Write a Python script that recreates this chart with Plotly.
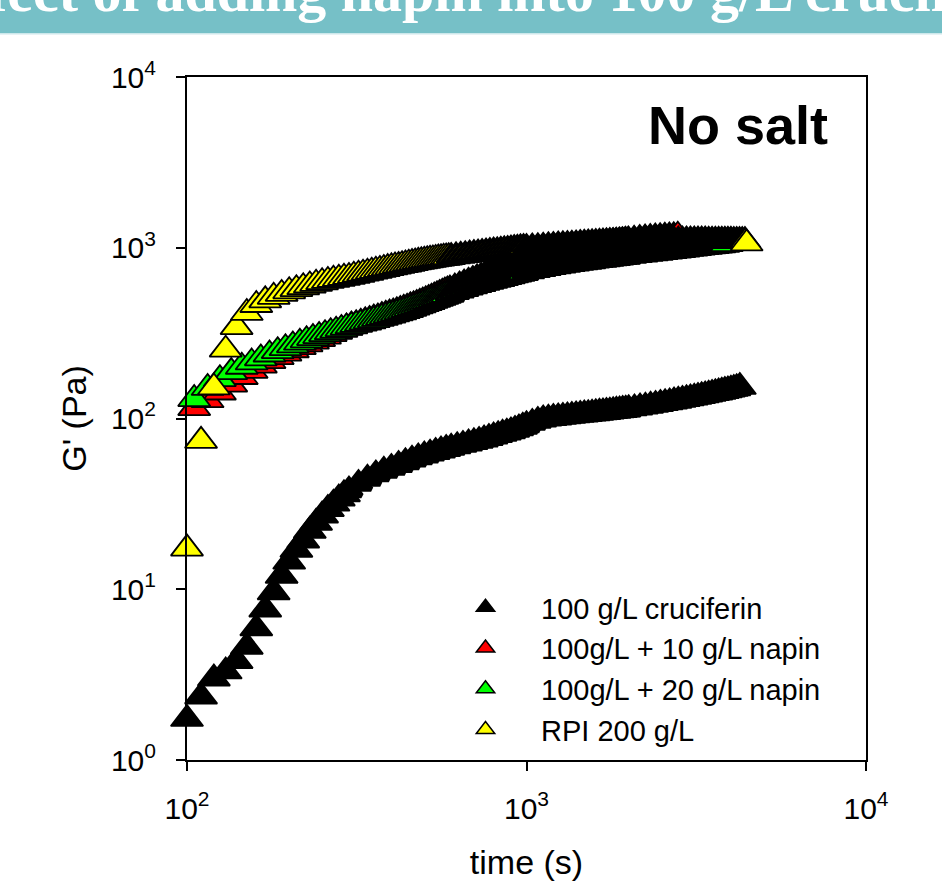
import math
import plotly.graph_objects as go

# ---------------- data ----------------
SERIES_NAMES = ["100 g/L cruciferin", "100g/L + 10 g/L napin", "100g/L + 20 g/L napin", "RPI 200 g/L"]

black_t = [100, 110, 120, 130, 140, 150, 160, 170, 180, 190, 200, 210, 220, 230, 240, 250, 260, 270, 280, 290, 300,
           320, 340, 360, 380, 400, 420, 440, 460, 480, 500, 520, 540, 560, 580, 600,
           625, 650, 675, 700, 725, 750, 775, 800, 825, 850, 875, 900, 925, 950, 975, 1000,
           1040, 1080, 1120, 1160, 1200, 1240, 1280, 1320, 1360, 1400, 1440, 1480, 1520, 1560, 1600, 1640, 1680,
           1720, 1760, 1800, 1840, 1880, 1920, 1960, 2000,
           2080, 2160, 2240, 2320, 2400, 2480, 2560, 2640, 2720, 2800, 2880, 2960, 3040, 3120, 3200, 3280, 3360,
           3440, 3520, 3600, 3680, 3760, 3840, 3920, 4000, 4080, 4160, 4250]
black_g = [1.74, 2.35, 3.0, 3.3, 3.8, 4.6, 5.9, 7.6, 9.6, 12.0, 14.5, 17.0, 19.3, 22.0, 24.5, 27.0, 29.5, 31.7, 34.0, 36.0, 38.0,
           41.5, 44.5, 47.2, 49.5, 51.5, 53.5, 55.5, 57.5, 59.3, 60.8, 62.3, 63.7, 65.0, 66.3, 67.5,
           68.9, 70.2, 71.5, 72.8, 74.0, 75.5, 77.0, 78.5, 80.0, 81.5, 82.8, 84.2, 85.8, 87.6, 89.5, 91.5,
           94.5, 97.0, 98.9, 100.0, 100.8, 101.6, 102.4, 103.1, 103.8, 104.5, 105.1, 105.7, 106.3, 106.9, 107.5, 108.1, 108.7,
           109.3, 109.9, 110.5, 111.1, 111.7, 112.3, 112.9, 113.5,
           114.9, 116.3, 117.7, 119.1, 120.5, 121.9, 123.3, 124.6, 126.0, 127.3, 128.7, 130.1, 131.4, 132.8, 134.1, 135.5, 136.9,
           138.2, 139.6, 140.9, 142.3, 143.7, 145.0, 146.4, 147.8, 149.2, 150.6, 153.0]

red_t = [105, 115, 125, 135, 145, 155, 165, 175, 185, 195, 205, 215, 225, 235, 245, 255, 265, 275, 285, 295,
         305, 315, 325, 335, 345, 355, 365, 375, 385, 395, 405, 415, 425, 435, 445, 455, 465, 475, 485, 495,
         505, 515, 525, 535, 545, 555, 565, 575, 585, 595,
         615, 635, 655, 675, 695, 715, 735, 755, 775, 795, 815, 835, 855, 875, 895, 915, 935, 955, 975, 995,
         1035, 1075, 1115, 1155, 1195, 1235, 1275, 1315, 1355, 1395, 1435, 1475, 1515, 1555, 1595, 1635, 1675,
         1715, 1755, 1795, 1835, 1875, 1915, 1955, 1995,
         2075, 2155, 2235, 2315, 2395, 2475, 2555, 2635, 2715, 2790]
red_g = [115, 128, 142, 158, 175, 190, 204, 217, 229, 240, 251, 262, 272, 282, 292, 302, 312, 322, 331, 340,
         350, 357, 364, 371, 378, 385, 391, 398, 405, 412, 418, 425, 432, 439, 446, 454, 461, 469, 477, 485,
         493, 501, 510, 519, 528, 537, 545, 554, 562, 570,
         586, 602, 618, 634, 649, 664, 678, 692, 706, 719, 732, 745, 757, 769, 781, 792, 803, 813, 823, 833,
         852, 870, 887, 903, 918, 932, 946, 959, 971, 983, 994, 1005, 1015, 1025, 1034, 1043, 1051,
         1059, 1067, 1074, 1081, 1088, 1094, 1100, 1106,
         1117, 1127, 1136, 1144, 1151, 1157, 1163, 1168, 1172, 1176]

green_t = [105, 115, 125, 135, 145, 155, 165, 175, 185, 195, 205, 215, 225, 235, 245, 255, 265, 275, 285, 295,
           305, 315, 325, 335, 345, 355, 365, 375, 385, 395, 405, 415, 425, 435, 445, 455, 465, 475, 485, 495,
           505, 515, 525, 535, 545, 555, 565, 575, 585, 595,
           615, 635, 655, 675, 695, 715, 735, 755, 775, 795, 815, 835, 855, 875, 895, 915, 935, 955, 975, 995,
           1035, 1075, 1115, 1155, 1195, 1235, 1275, 1315, 1355, 1395, 1435, 1475, 1515, 1555, 1595, 1635, 1675,
           1715, 1755, 1795, 1835, 1875, 1915, 1955, 1995,
           2075, 2155, 2235, 2315, 2395, 2475, 2555, 2635, 2715, 2795, 2875, 2955, 3035, 3115, 3195, 3275, 3355,
           3435, 3515, 3595, 3675, 3755, 3835, 3890]
green_g = [130, 151, 170, 187, 201, 213, 225, 237, 248, 258, 268, 278, 287, 296, 304, 312, 320, 327, 334, 341,
           347, 353, 359, 365, 371, 377, 383, 389, 395, 401, 407, 413, 419, 425, 432, 439, 446, 453, 460, 467,
           474, 481, 488, 495, 502, 509, 516, 523, 530, 537,
           550, 562, 574, 585, 595, 605, 614, 623, 632, 641, 649, 657, 665, 673, 681, 689, 696, 703, 710, 717,
           730, 741, 752, 762, 771, 780, 788, 796, 803, 810, 817, 823, 829, 835, 841, 847, 852,
           857, 862, 867, 872, 877, 882, 886, 890,
           900, 908, 916, 923, 930, 937, 944, 951, 958, 965, 972, 979, 986, 992, 998, 1004, 1010,
           1015, 1020, 1025, 1030, 1035, 1040, 1049]

yellow_t = [100, 110, 120, 130, 140, 150, 160, 170, 180, 190, 200, 210, 220, 230, 240, 250, 260, 270, 280, 290,
            300, 310, 320, 330, 340, 350, 360, 370, 380, 390, 400, 410, 420, 430, 440, 450, 460, 470, 480, 490,
            500, 510, 520, 530, 540, 550, 560, 570, 580, 590, 600,
            620, 640, 660, 680, 700, 720, 740, 760, 780, 800, 820, 840, 860, 880, 900, 920, 940, 960, 980, 1000,
            1040, 1080, 1120, 1160, 1200, 1240, 1280, 1320, 1360, 1400, 1440, 1480, 1520, 1560, 1600, 1640, 1680,
            1720, 1760, 1800, 1840, 1880, 1920, 1960, 2000,
            2080, 2160, 2240, 2320, 2400, 2480, 2560, 2640, 2720, 2800, 2880, 2960, 3040, 3120, 3200, 3280, 3360,
            3440, 3520, 3600, 3680, 3760, 3840, 3920, 4000, 4080, 4160, 4240, 4320, 4400, 4450]
yellow_g = [17.3, 74, 152, 253, 343, 415, 462, 492, 516, 537, 556, 572, 587, 601, 615, 628, 639, 649, 658, 667,
            675, 685, 695, 705, 714, 724, 733, 742, 751, 760, 768, 776, 783, 791, 798, 806, 813, 820, 827, 833,
            839, 845, 850, 855, 860, 865, 869, 873, 877, 881, 885,
            892, 899, 906, 913, 920, 927, 933, 939, 945, 951, 957, 963, 968, 973, 978, 984, 989, 993, 997, 1000,
            1006, 1011, 1016, 1022, 1027, 1032, 1036, 1041, 1045, 1049, 1054, 1058, 1062, 1066, 1069, 1072, 1075,
            1078, 1081, 1084, 1087, 1089, 1091, 1093, 1095,
            1097, 1098, 1099, 1100, 1101, 1102, 1102, 1103, 1103, 1104, 1104, 1104, 1104, 1104, 1104, 1104, 1104,
            1103, 1103, 1103, 1102, 1102, 1101, 1101, 1100, 1099, 1098, 1097, 1096, 1095, 1060]

X_TICKS = [100, 1000, 10000]
X_TICK_TEXT = ["10<sup>2</sup>", "10<sup>3</sup>", "10<sup>4</sup>"]
Y_TICKS = [1, 10, 100, 1000, 10000]
Y_TICK_TEXT = ["10<sup>0</sup>", "10<sup>1</sup>", "10<sup>2</sup>", "10<sup>3</sup>", "10<sup>4</sup>"]

for a, b in [(black_t, black_g), (red_t, red_g), (green_t, green_g), (yellow_t, yellow_g)]:
    assert len(a) == len(b), (len(a), len(b))

# ---------------- layout constants ----------------
W, H = 942, 882
ML, MR, MT, MB = 187, 76, 77, 122
PW, PH = W - ML - MR, H - MT - MB
PX_PER_DEC = PW / 2.0
FONT = "Liberation Sans, Arial, sans-serif"


def px_x(px):
    return (px - ML) / PW


def px_y(py):
    return (H - MB - py) / PH


def marker_style(times, base=28.0, w0=1.8):
    """Outline width that reproduces the look of the original 10 s sampling density."""
    sizes, widths = [], []
    n = len(times)
    for i, t in enumerate(times):
        if i < n - 1:
            d = PX_PER_DEC * math.log10(times[i + 1] / t)
            dref = PX_PER_DEC * math.log10((t + 10.0) / t)
            w = w0 + 0.79 * max(0.0, d - dref)
        else:
            w = w0
        widths.append(round(w, 2))
        sizes.append(round(base - 1.76 * (w - w0), 2))
    return sizes, widths


COLORS = ["#000000", "#FF0000", "#00FF00", "#FFFF00"]
DATA = [(black_t, black_g), (red_t, red_g), (green_t, green_g), (yellow_t, yellow_g)]

fig = go.Figure()
for (t, g), col in zip(DATA, COLORS):
    s, w = marker_style(t)
    fig.add_trace(go.Scatter(
        x=t, y=g, mode="markers", showlegend=False, hoverinfo="skip", cliponaxis=False,
        marker=dict(symbol="triangle-up", size=s, color=col, opacity=1,
                    line=dict(color="black", width=w)),
    ))

for name, col in zip(SERIES_NAMES, COLORS):
    fig.add_trace(go.Scatter(
        x=[None], y=[None], mode="markers", name=name, showlegend=True,
        marker=dict(symbol="triangle-up", size=16, color=col, opacity=1,
                    line=dict(color="black", width=1.5)),
    ))

axis_common = dict(
    type="log", ticks="outside", ticklen=9, tickwidth=2, tickcolor="black",
    showline=True, linewidth=2, linecolor="black", mirror=True,
    showgrid=False, zeroline=False, tickmode="array", automargin=False,
    tickfont=dict(family=FONT, size=30, color="black"),
)

fig.update_layout(
    width=W, height=H,
    margin=dict(l=ML, r=MR, t=MT, b=MB, pad=0, autoexpand=False),
    paper_bgcolor="white", plot_bgcolor="white",
    font=dict(family=FONT, color="black"),
    xaxis=dict(axis_common, range=[2, 4], tickvals=X_TICKS, ticktext=X_TICK_TEXT,
               ticklabelstandoff=12,
               title=dict(text="time (s)", font=dict(family=FONT, size=34), standoff=26)),
    yaxis=dict(axis_common, range=[0, 4], tickvals=Y_TICKS, ticktext=Y_TICK_TEXT,
               ticklabelstandoff=14,
               title=dict(text="G' (Pa)", font=dict(family=FONT, size=34), standoff=14)),
    legend=dict(
        x=px_x(430), y=px_y(582), xanchor="left", yanchor="top",
        bgcolor="rgba(0,0,0,0)", borderwidth=0, itemwidth=101,
        font=dict(family=FONT, size=29, color="black"), traceorder="normal",
    ),
    shapes=[
        dict(type="rect", xref="paper", yref="paper", layer="above",
             x0=px_x(-5), x1=px_x(W + 5), y0=px_y(33), y1=px_y(-5),
             fillcolor="#76C0C7", line=dict(width=0)),
        dict(type="rect", xref="paper", yref="paper", layer="above",
             x0=px_x(-5), x1=px_x(W + 5), y0=px_y(34.5), y1=px_y(33),
             fillcolor="#CDE8EB", line=dict(width=0)),
    ],
    annotations=[
        dict(text="Effect of adding napin into 100 g/L cruciferin", xref="paper", yref="paper",
             x=px_x(-72), y=px_y(26), xanchor="left", yanchor="bottom", showarrow=False,
             font=dict(family="Liberation Serif, Times New Roman, serif", size=58, color="white", weight="bold")),
        dict(text="<b>No salt</b>", xref="paper", yref="paper",
             x=px_x(830), y=px_y(125), xanchor="right", yanchor="middle", showarrow=False,
             font=dict(family=FONT, size=54, color="black")),
    ],
)

fig.write_html("out.html")
